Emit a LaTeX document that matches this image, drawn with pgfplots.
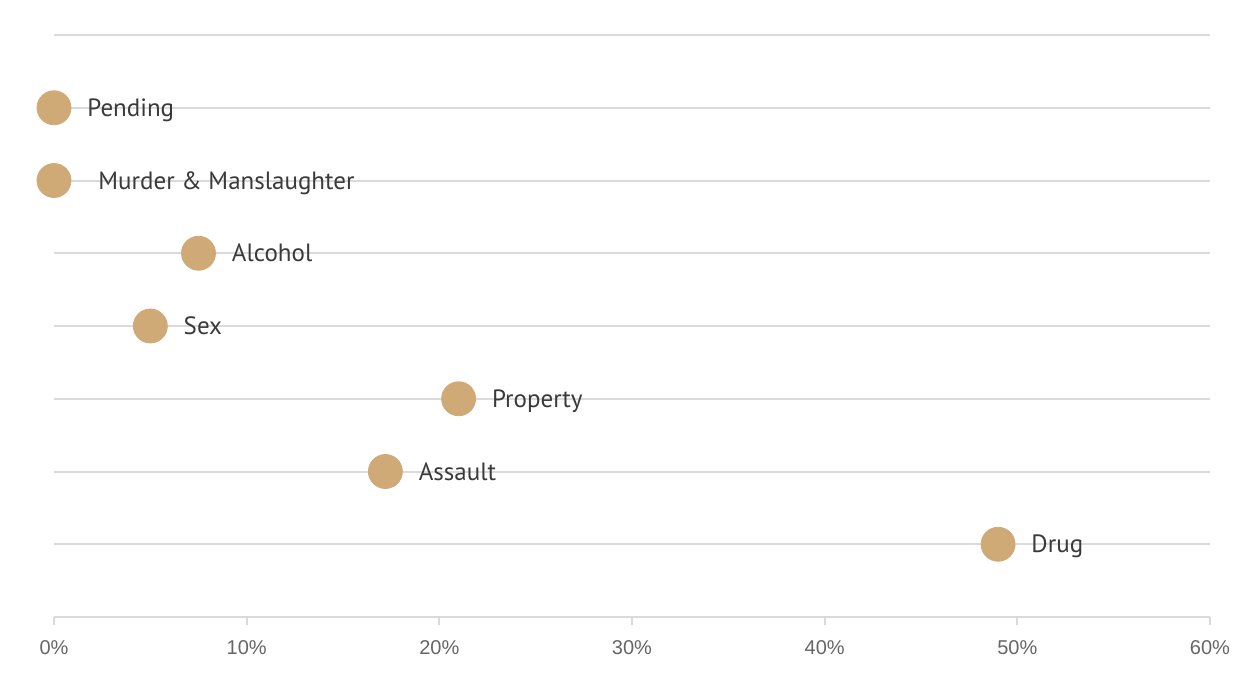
\documentclass[border=0pt]{standalone}
\usepackage{pgfplots}
\pgfplotsset{compat=1.18}
\usepackage{fontspec}
\setmainfont{PT Sans}
\newfontfamily\tickfont{Liberation Sans}
\definecolor{markc}{HTML}{D0AA76}
\definecolor{gridc}{HTML}{DADADA}
\definecolor{textc}{HTML}{3A3A3A}
\definecolor{tickc}{HTML}{666666}
\begin{document}
\begin{tikzpicture}
\useasboundingbox (-27pt,-29pt) rectangle (597pt,308.5pt);
\begin{axis}[
  at={(0pt,0pt)}, anchor=origin,
  scale only axis, width=578pt, height=291pt,
  xmin=0, xmax=60, ymin=0, ymax=8,
  clip=false,
  axis x line*=bottom,
  axis y line*=left,
  y axis line style={draw=none},
  x axis line style={draw=gridc, line width=1pt},
  xtick={0,10,...,60},
  xticklabel={\pgfmathprintnumber{\tick}\%},
  xticklabel style={font=\tickfont\fontsize{10}{12}\selectfont, text=tickc, yshift=-4pt},
  /pgf/number format/assume math mode=true,
  xtick align=outside,
  major tick length=4pt,
  x tick style={draw=gridc, line width=1pt},
  ytick={1,...,8},
  yticklabels={},
  y tick style={draw=none},
  ymajorgrids,
  grid style={draw=gridc, line width=1pt},
  xmajorgrids=false,
]
\addplot[only marks, mark=*, mark size=8.5pt, color=markc,
  nodes near coords, point meta=explicit symbolic,
  nodes near coords style={anchor=base west, xshift=16.5pt, yshift=-4.3pt, inner sep=0pt, text=textc, font=\fontsize{12.5}{14}\selectfont}]
  table[x=x, y=y, meta=label, col sep=comma] {
x,y,label
0,7,Pending
0,6,{\hspace{5.5pt}Murder \& Manslaughter}
7.5,5,Alcohol
5,4,Sex
21,3,Property
17.2,2,Assault
49,1,Drug
};
\end{axis}
\end{tikzpicture}
\end{document}
